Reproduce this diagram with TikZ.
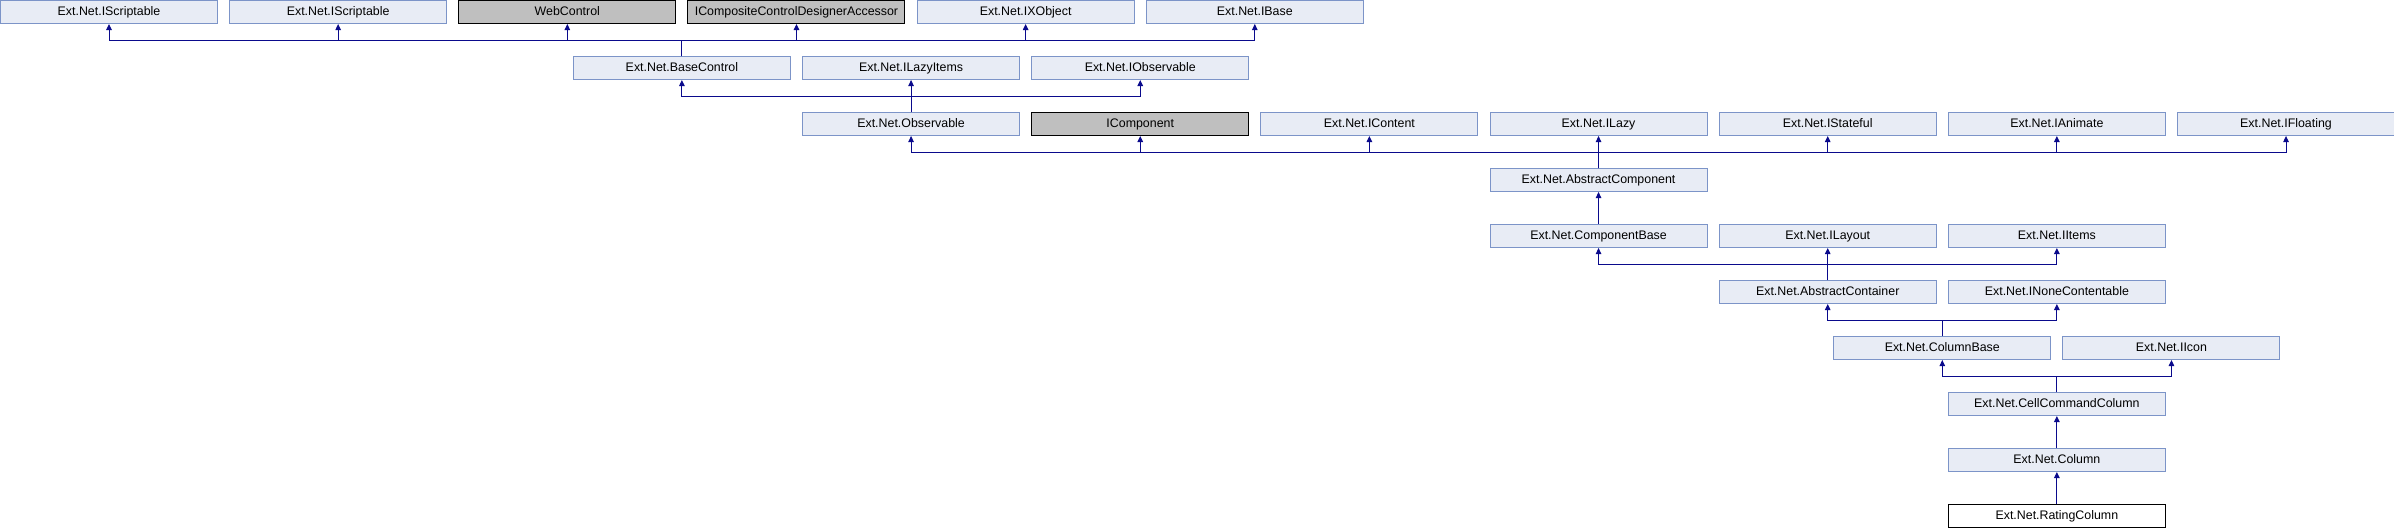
\documentclass[tikz,border=0pt]{standalone}
\usepackage{fontspec}
\setmainfont{Liberation Sans}
\usetikzlibrary{arrows.meta}
\definecolor{boxfill}{RGB}{232,236,245}
\definecolor{boxline}{RGB}{124,148,200}
\definecolor{extfill}{RGB}{191,191,191}
\definecolor{edgecol}{RGB}{10,10,140}
\tikzset{
  cls/.style={rectangle, draw=boxline, fill=boxfill, line width=1pt, minimum width=217pt, minimum height=23pt, inner sep=0pt, text height=9.5pt, text depth=2.5pt, font=\fontsize{12.4}{14}\selectfont, text=black},
  extcls/.style={cls, draw=black, fill=extfill},
  curcls/.style={cls, draw=black, fill=white},
  edge/.style={draw=edgecol, line width=1pt, -{Triangle[length=6pt,width=5.5pt]}},
}
\newcommand{\px}[1]{#1*114.58+109}
\newcommand{\py}[1]{#1*56+12}
\begin{document}
\begin{tikzpicture}[x=1pt,y=-1pt]
\useasboundingbox (0,0) rectangle (2394,528);
% row 0
\node[cls] (is1) at ({\px{0}},{\py{0}}) {Ext.Net.IScriptable};
\node[cls] (is2) at ({\px{2}},{\py{0}}) {Ext.Net.IScriptable};
\node[extcls] (web) at ({\px{4}},{\py{0}}) {WebControl};
\node[extcls] (icc) at ({\px{6}},{\py{0}}) {ICompositeControlDesignerAccessor};
\node[cls] (ixo) at ({\px{8}},{\py{0}}) {Ext.Net.IXObject};
\node[cls] (ibase) at ({\px{10}},{\py{0}}) {Ext.Net.IBase};
% row 1
\node[cls] (bc) at ({\px{5}},{\py{1}}) {Ext.Net.BaseControl};
\node[cls] (ili) at ({\px{7}},{\py{1}}) {Ext.Net.ILazyItems};
\node[cls] (iobs) at ({\px{9}},{\py{1}}) {Ext.Net.IObservable};
% row 2
\node[cls] (obs) at ({\px{7}},{\py{2}}) {Ext.Net.Observable};
\node[extcls] (icomp) at ({\px{9}},{\py{2}}) {IComponent};
\node[cls] (icont) at ({\px{11}},{\py{2}}) {Ext.Net.IContent};
\node[cls] (ilazy) at ({\px{13}},{\py{2}}) {Ext.Net.ILazy};
\node[cls] (istate) at ({\px{15}},{\py{2}}) {Ext.Net.IStateful};
\node[cls] (ianim) at ({\px{17}},{\py{2}}) {Ext.Net.IAnimate};
\node[cls] (ifloat) at ({\px{19}},{\py{2}}) {Ext.Net.IFloating};
% row 3
\node[cls] (ac) at ({\px{13}},{\py{3}}) {Ext.Net.AbstractComponent};
% row 4
\node[cls] (cb) at ({\px{13}},{\py{4}}) {Ext.Net.ComponentBase};
\node[cls] (ilay) at ({\px{15}},{\py{4}}) {Ext.Net.ILayout};
\node[cls] (iitems) at ({\px{17}},{\py{4}}) {Ext.Net.IItems};
% row 5
\node[cls] (acont) at ({\px{15}},{\py{5}}) {Ext.Net.AbstractContainer};
\node[cls] (inone) at ({\px{17}},{\py{5}}) {Ext.Net.INoneContentable};
% row 6
\node[cls] (colb) at ({\px{16}},{\py{6}}) {Ext.Net.ColumnBase};
\node[cls] (iicon) at ({\px{18}},{\py{6}}) {Ext.Net.IIcon};
% row 7
\node[cls] (ccc) at ({\px{17}},{\py{7}}) {Ext.Net.CellCommandColumn};
% row 8
\node[cls] (col) at ({\px{17}},{\py{8}}) {Ext.Net.Column};
% row 9
\node[curcls] (rc) at ({\px{17}},{\py{9}}) {Ext.Net.RatingColumn};
% edges
\foreach \p in {is1,is2,web,icc,ixo,ibase}
  \draw[edge] (bc.north) -- ++(0,-16) -| (\p.south);
\foreach \p in {bc,ili,iobs}
  \draw[edge] (obs.north) -- ++(0,-16) -| (\p.south);
\foreach \p in {obs,icomp,icont,ilazy,istate,ianim,ifloat}
  \draw[edge] (ac.north) -- ++(0,-16) -| (\p.south);
\draw[edge] (cb.north) -- (ac.south);
\foreach \p in {cb,ilay,iitems}
  \draw[edge] (acont.north) -- ++(0,-16) -| (\p.south);
\foreach \p in {acont,inone}
  \draw[edge] (colb.north) -- ++(0,-16) -| (\p.south);
\foreach \p in {colb,iicon}
  \draw[edge] (ccc.north) -- ++(0,-16) -| (\p.south);
\draw[edge] (col.north) -- (ccc.south);
\draw[edge] (rc.north) -- (col.south);
\end{tikzpicture}
\end{document}
